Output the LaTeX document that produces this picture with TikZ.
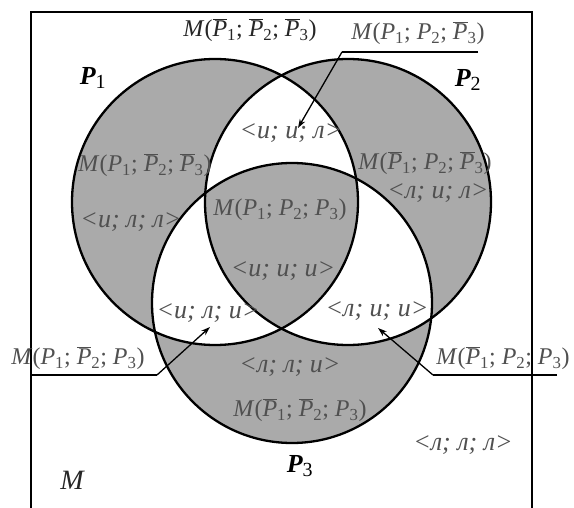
\documentclass[tikz,border=0pt]{standalone}
\usepackage{fontspec}
\setmainfont{Liberation Serif}
\usepackage{tikz}
\usetikzlibrary{arrows.meta,positioning}
\definecolor{regfill}{RGB}{170,170,170}
\definecolor{lblgray}{RGB}{80,80,80}
\newcommand{\Ps}[1]{\textit{P}\textsubscript{#1}}
\newcommand{\Pb}[1]{$\overline{\hbox{\textit{P}}}$\textsubscript{#1}}
\newcommand{\Mset}[3]{\textit{M}(#1; #2; #3)}

\begin{document}
\begin{tikzpicture}[x=1pt, y=-1pt,
  >={Stealth[length=9pt,width=6pt]},
  frame/.style={line width=2.6pt},
  venn/.style={line width=2.3pt},
  lbl/.style={font=\fontsize{24}{28}\selectfont, text=lblgray, inner sep=1pt},
  val/.style={lbl, font=\fontsize{26}{30}\selectfont\itshape},
  setname/.style={font=\fontsize{26}{30}\selectfont\bfseries\itshape, inner sep=1pt},
  pointer/.style={line width=1.3pt, ->},
  uline/.style={line width=1.3pt}]
\useasboundingbox (0,0) rectangle (574,508);
\fill[white] (0,0) rectangle (574,508);
\fill[regfill, even odd rule] (215,202) circle (143) (348,202) circle (143) (292,303) circle (140);
\draw[venn] (215,202) circle (143);
\draw[venn] (348,202) circle (143);
\draw[venn] (292,303) circle (140);
\draw[frame] (31,510) -- (31,12) -- (532,12) -- (532,510);
\node[setname] (p1) at (93,78) {\textit{P}\textsubscript{\normalfont\fontsize{20}{24}\selectfont 1}};
\node[setname] (p2) at (468,80) {\textit{P}\textsubscript{\normalfont\fontsize{20}{24}\selectfont 2}};
\node[setname] (p3) at (300,466) {\textit{P}\textsubscript{\normalfont\fontsize{20}{24}\selectfont 3}};
\node[lbl, text=black!85] (mnnn) at (250,30) {\Mset{\Pb1}{\Pb2}{\Pb3}};
\node[lbl] (myyn) at (418,33) {\Mset{\Ps1}{\Ps2}{\Pb3}};
\node[lbl] (mynn) at (145,165) {\Mset{\Ps1}{\Pb2}{\Pb3}};
\node[lbl] (mnyn) at (425,163) {\Mset{\Pb1}{\Ps2}{\Pb3}};
\node[lbl] (myyy) at (280,210) {\Mset{\Ps1}{\Ps2}{\Ps3}};
\node[lbl] (myny) at (78,358) {\Mset{\Ps1}{\Pb2}{\Ps3}};
\node[lbl] (mnyy) at (503,358) {\Mset{\Pb1}{\Ps2}{\Ps3}};
\node[lbl] (mnny) at (300,410) {\Mset{\Pb1}{\Pb2}{\Ps3}};
\node[val] (vyyn) at (291,133) {<и; и; л>};
\node[val] (vynn) at (131,222) {<и; л; л>};
\node[val] (vnyn) at (438,193) {<л; и; л>};
\node[val] (vyyy) at (283,271) {<и; и; и>};
\node[val] (vyny) at (208,313) {<и; л; и>};
\node[val] (vnyy) at (377,311) {<л; и; и>};
\node[val] (vnny) at (290,367) {<л; л; и>};
\node[val] (vnnn) at (463,445) {<л; л; л>};
\node[lbl, font=\fontsize{28}{32}\selectfont\itshape, text=black!85] (mall) at (72,480) {M};
\coordinate (ua) at (342,52);
\coordinate (ub) at (478,52);
\coordinate (ta) at (298,128);
\coordinate (uc) at (31,375);
\coordinate (ud) at (157,375);
\coordinate (tc) at (210,327);
\coordinate (ue) at (433,375);
\coordinate (uf) at (557,375);
\coordinate (te) at (378,328);
\draw[uline] (ub) -- (ua);
\draw[pointer] (ua) -- (ta);
\draw[uline] (uc) -- (ud);
\draw[pointer] (ud) -- (tc);
\draw[uline] (uf) -- (ue);
\draw[pointer] (ue) -- (te);
\end{tikzpicture}
\end{document}
